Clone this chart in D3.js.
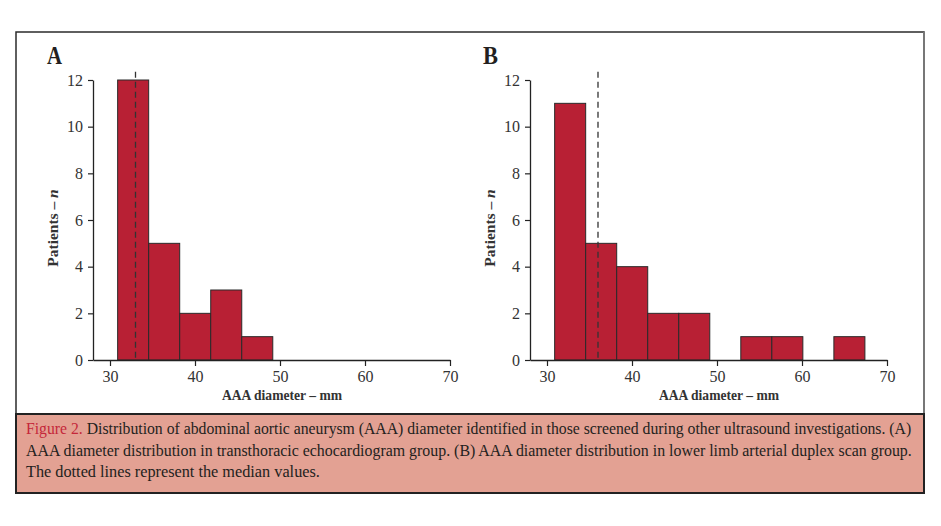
<!DOCTYPE html>
<html>
<head>
<meta charset="utf-8">
<script src="https://cdn.jsdelivr.net/npm/d3@7"></script>
<style>
  html, body { margin: 0; padding: 0; background: #fff; }
  svg { display: block; }
</style>
</head>
<body>
<svg id="chart" width="941" height="526"></svg>
<script>
// ---- data ----
const binEdges = [30.9, 34.55, 38.2, 41.85, 45.5, 49.15, 52.8, 56.45, 60.1, 63.75, 67.4];
const countsA = [12, 5, 2, 3, 1];
const countsB = [11, 5, 4, 2, 2, 0, 1, 1, 0, 1];
const medianA = 33;
const medianB = 36;
const xTicks = [30, 40, 50, 60, 70];
const yTicks = [0, 2, 4, 6, 8, 10, 12];
const panelLabels = ["A", "B"];
const xTitle = "AAA diameter – mm";
const captionLines = [
  [["Figure 2.", "red"], [" Distribution of abdominal aortic aneurysm (AAA) diameter identified in those screened during other ultrasound investigations. (A)", "dark"]],
  [["AAA diameter distribution in transthoracic echocardiogram group. (B) AAA diameter distribution in lower limb arterial duplex scan group.", "dark"]],
  [["The dotted lines represent the median values.", "dark"]]
];

// ---- drawing ----
const svg = d3.select("#chart");
const FONT = "'Liberation Serif', 'DejaVu Serif', serif";
const DARK = "#231f20";
const BAR = "#b82034";

// outer frame
svg.append("rect").attr("x", 16).attr("y", 32).attr("width", 908).attr("height", 461)
  .attr("fill", "#fff").attr("stroke", "#2b2b2b").attr("stroke-width", 1.5);
svg.append("line").attr("x1", 924).attr("x2", 924).attr("y1", 32).attr("y2", 493)
  .attr("stroke", "#777").attr("stroke-width", 2);

const panels = [
  { counts: countsA, median: medianA, left: 93, right: 450, letter: panelLabels[0], lx: 47, ytx: 53 },
  { counts: countsB, median: medianB, left: 530, right: 887, letter: panelLabels[1], lx: 483, ytx: 489.5 }
];

panels.forEach(p => {
  const g = svg.append("g");
  const x = d3.scaleLinear().domain([28, 70]).range([p.left, p.right]);
  const y = d3.scaleLinear().domain([0, 12]).range([360, 80]);

  // bars
  g.selectAll("rect.bar").data(p.counts.map((c, i) => ({ c, x0: binEdges[i], x1: binEdges[i + 1] })).filter(d => d.c > 0))
    .join("rect").attr("class", "bar")
    .attr("x", d => x(d.x0)).attr("width", d => x(d.x1) - x(d.x0))
    .attr("y", d => y(d.c)).attr("height", d => y(0) - y(d.c))
    .attr("fill", BAR).attr("stroke", "#2a2a2a").attr("stroke-width", 1);

  // median dashed line
  g.append("line").attr("x1", x(p.median)).attr("x2", x(p.median))
    .attr("y1", y(12.35)).attr("y2", y(0))
    .attr("stroke", "#333").attr("stroke-width", 1.3).attr("stroke-dasharray", "6,4");

  // axes
  const xAxis = g.append("g").attr("transform", `translate(0,${y(0)})`)
    .call(d3.axisBottom(x).tickValues(xTicks).tickSize(6).tickSizeOuter(0).tickPadding(5));
  const yAxis = g.append("g").attr("transform", `translate(${p.left},0)`)
    .call(d3.axisLeft(y).tickValues(yTicks).tickSize(5).tickSizeOuter(0).tickPadding(5));
  [xAxis, yAxis].forEach(a => {
    a.select(".domain").attr("stroke", "#222").attr("stroke-width", 1.3);
    a.selectAll(".tick line").attr("stroke", "#222").attr("stroke-width", 1.2);
    a.selectAll(".tick text").attr("font-family", FONT).attr("font-size", 16).attr("fill", "#333");
  });

  // axis titles
  g.append("text").attr("x", (x(30) + x(70)) / 2 + 2).attr("y", 400)
    .attr("text-anchor", "middle").attr("font-family", FONT).attr("font-size", 15)
    .attr("font-weight", "bold").attr("fill", "#333")
    .attr("textLength", 120).attr("lengthAdjust", "spacingAndGlyphs")
    .text(xTitle);

  const yt = g.append("text").attr("transform", `translate(${p.ytx + 5},228) rotate(-90)`)
    .attr("text-anchor", "middle").attr("font-family", FONT).attr("font-size", 15.5)
    .attr("font-weight", "bold").attr("fill", "#333");
  yt.append("tspan").text("Patients – ");
  yt.append("tspan").attr("font-style", "italic").text("n");

  // panel letter
  g.append("text").attr("x", p.lx).attr("y", 64).attr("font-family", FONT)
    .attr("font-size", 25).attr("font-weight", "bold").attr("fill", DARK)
    .attr("textLength", 15).attr("lengthAdjust", "spacingAndGlyphs")
    .text(p.letter);
});

// caption box
svg.append("rect").attr("x", 16).attr("y", 414).attr("width", 908).attr("height", 79)
  .attr("fill", "#e3a193").attr("stroke", "#222").attr("stroke-width", 2);

const lineTargets = [886, 887, 294];
const baselines = [434, 455.5, 477];
captionLines.forEach((parts, i) => {
  const t = svg.append("text").attr("font-family", FONT).attr("font-size", 16.5)
    .attr("fill", DARK).attr("x", 0).attr("y", 0);
  parts.forEach(([s, c]) => {
    t.append("tspan").attr("fill", c === "red" ? "#c5283a" : DARK).text(s);
  });
  const len = t.node().getComputedTextLength();
  t.attr("transform", `translate(26,${baselines[i]}) scale(${lineTargets[i] / len},1)`);
});
</script>
</body>
</html>
